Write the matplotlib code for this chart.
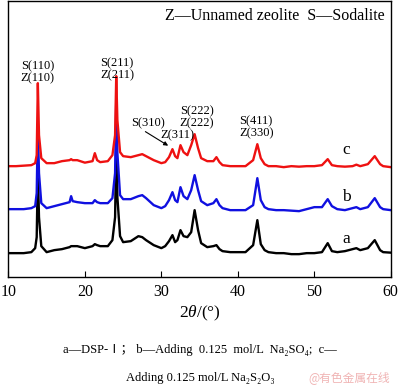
import matplotlib
matplotlib.use("Agg")
import matplotlib.pyplot as plt

plt.rcParams["font.family"] = ["Liberation Serif", "Noto Sans CJK SC", "DejaVu Serif"]
plt.rcParams["mathtext.fontset"] = "custom"
plt.rcParams["mathtext.rm"] = "Liberation Serif"
plt.rcParams["mathtext.it"] = "Liberation Serif:italic"

# 2theta positions (degrees)
two_theta = [10, 11, 12, 13, 13.5, 13.7, 13.85, 14.0, 14.3, 15, 16, 17, 18, 18.2, 18.4,
             19, 20, 21, 21.3, 21.6, 22, 23, 23.6, 23.95, 24.1, 24.25, 24.6, 25, 26, 27,
             27.5, 28, 29, 30, 30.5, 31, 31.45, 31.8, 32.1, 32.5, 32.9, 33.4, 33.9, 34.35,
             34.8, 35.2, 36, 36.8, 37.2, 37.6, 38, 39, 40, 41, 42, 42.55, 43, 43.5, 44, 45,
             46, 47, 48, 49, 50, 51, 51.75, 52.3, 53, 54, 55, 55.5, 56, 57, 57.9, 58.6, 59, 60]

# intensities (arbitrary units), each curve relative to its own baseline
int_a = [24, 24, 24, 25, 29, 40, 107, 60, 31, 25, 27, 28, 30, 31, 31,
         31, 29, 31, 33, 32, 31, 31, 37, 60, 132, 80, 41, 35, 36, 41,
         40, 37, 32, 29, 31, 36, 42, 35, 37, 47, 41, 40, 45, 67,
         47, 34, 30, 31, 32, 28, 26, 25, 25, 25, 32, 57, 33, 27, 25, 24,
         24, 23, 23, 24, 24, 25, 34, 26, 25, 26, 28, 29, 27, 29, 37, 27, 25, 24.5]
int_b = [24, 24, 24, 25, 27, 40, 108, 60, 30, 25, 27, 29, 31, 37, 32,
         31, 30, 30, 33, 31, 30, 30, 35, 60, 133, 80, 38, 34, 34, 37,
         38, 35, 28, 25, 27, 33, 41, 33, 31, 46, 37, 34, 43, 58,
         43, 32, 28, 30, 34, 28, 25, 23, 23, 23, 28, 55, 33, 26, 24, 23,
         23, 22.5, 22, 24, 26, 26, 34, 27, 24, 23, 25, 26, 24, 26, 35, 26, 24, 23]
int_c = [24, 24, 24.5, 25, 27, 35, 107, 55, 32, 27, 27, 29, 30, 31, 30,
         30, 27.5, 29, 37, 30, 28, 29, 35, 55, 114, 70, 38, 34, 33, 35,
         36, 34, 30, 27, 28, 33, 41, 34, 32, 45, 38, 35, 45, 56,
         42, 32, 29, 29, 33, 28, 25, 24, 24, 24, 30, 46, 32, 26, 24, 24,
         23, 24, 23.5, 24, 24, 25, 31, 25, 24, 23.5, 24, 25.5, 24, 26, 34, 26, 24, 23]

curve_labels = ["a", "b", "c"]
curve_colors = ["black", "#1010e0", "#ee1111"]
offsets = [0, 44, 87]

x_ticks = [10, 20, 30, 40, 50, 60]

fig = plt.figure(figsize=(4.0, 3.92), dpi=100)
ax = fig.add_axes([0.021, 0.293, 0.956, 0.704])

for ys, off, col in zip([int_a, int_b, int_c], offsets, curve_colors):
    ax.plot(two_theta, [v + off for v in ys], color=col, lw=1.7)

ax.set_xlim(10, 60)
ax.set_ylim(0, 276)
ax.set_xticks(x_ticks)
ax.set_yticks([])
ax.tick_params(axis="x", direction="in", length=4, labelsize=11.5, pad=5)
for s in ax.spines.values():
    s.set_linewidth(1.0)
ax.set_xlabel(r"2$\theta$/(°)", fontsize=12.5, labelpad=3)

# curve letters
for lab, ypos in zip(curve_labels, [38, 80, 127]):
    ax.text(54.2, ypos, lab, fontsize=12.5, ha="center", va="center")

# peak labels
pk = 9
ax.text(13.85, 205, "S(110)\nZ(110)", fontsize=pk, ha="center", va="center", linespacing=0.95)
ax.text(24.2, 208, "S(211)\nZ(211)", fontsize=pk, ha="center", va="center", linespacing=0.95)
ax.text(28.3, 154, "S(310)", fontsize=pk, ha="center", va="center")
ax.text(32.1, 142, "Z(311)", fontsize=pk, ha="center", va="center")
ax.annotate("", xy=(31.2, 130), xytext=(27.6, 147),
            arrowprops=dict(arrowstyle="-|>", color="black", lw=0.8, mutation_scale=6))
ax.text(34.6, 160, "S(222)\nZ(222)", fontsize=pk, ha="center", va="center", linespacing=0.95)
ax.text(42.4, 150, "S(411)\nZ(330)", fontsize=pk, ha="center", va="center", linespacing=0.95)

ax.text(0.985, 0.945, "Z\u2014Unnamed zeolite  S\u2014Sodalite", transform=ax.transAxes,
        fontsize=11.5, ha="right", va="center")

fig.text(0.5, 0.107, "a\u2014DSP-\u2160\uff1b b\u2014Adding  0.125  mol/L  Na\u2082SO\u2084;  c\u2014",
         fontsize=9, ha="center", va="center")
fig.text(0.5, 0.036, "Adding 0.125 mol/L Na\u2082S\u2082O\u2083", fontsize=9, ha="center", va="center")
fig.text(0.975, 0.036, "@有色金属在线", fontsize=8.5, ha="right", va="center", color="#f0b4b4",
         family=["Noto Sans CJK SC", "DejaVu Sans"])

fig.savefig("out.png", dpi=100)
